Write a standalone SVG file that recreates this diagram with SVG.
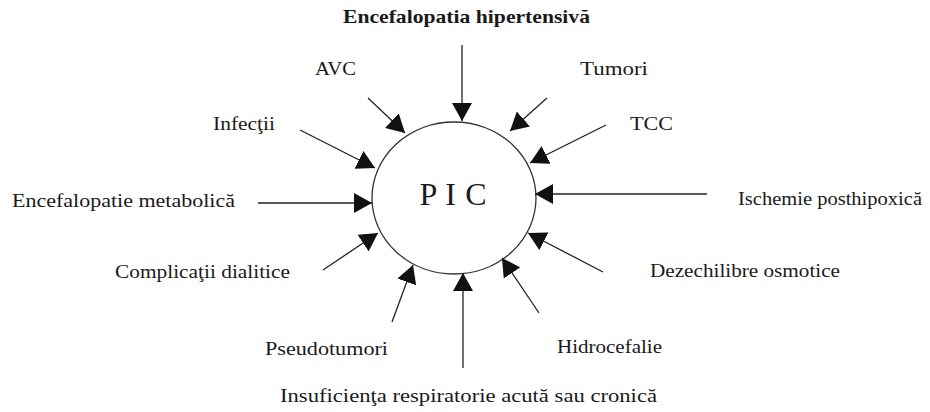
<svg xmlns="http://www.w3.org/2000/svg" width="930" height="412" viewBox="0 0 930 412">
<style>
.lbl{font-family:"Liberation Serif","Times New Roman",serif;font-size:19px;fill:#1a1a1a}
.ttl{font-weight:bold}
.c{stroke:#222;stroke-width:1.3;fill:none;marker-end:url(#ah)}
</style>
<defs>
<marker id="ah" viewBox="0 0 18 20" refX="18" refY="10" markerWidth="18" markerHeight="20" markerUnits="userSpaceOnUse" orient="auto">
<path d="M0,0 L18,10 L0,20 z" fill="#111"/>
</marker>
</defs>
<rect width="930" height="412" fill="#fff"/>
<g id="pic">
<ellipse cx="454" cy="198" rx="82" ry="76" fill="none" stroke="#333" stroke-width="1.3"/>
<text x="453" y="205" text-anchor="middle" font-family="Liberation Serif,serif" font-size="32" fill="#1a1a1a" textLength="67" lengthAdjust="spacing">P I C</text>
</g>
<g id="connectors">
<line class="c" x1="462" y1="45" x2="462" y2="121"/>
<line class="c" x1="368" y1="98" x2="405" y2="133"/>
<line class="c" x1="547" y1="98" x2="510" y2="131"/>
<line class="c" x1="606" y1="125" x2="530" y2="163"/>
<line class="c" x1="707" y1="194" x2="535" y2="194"/>
<line class="c" x1="300" y1="130" x2="375" y2="168"/>
<line class="c" x1="258" y1="203" x2="372" y2="203"/>
<line class="c" x1="323" y1="270" x2="378" y2="233"/>
<line class="c" x1="392" y1="322" x2="413" y2="265"/>
<line class="c" x1="463" y1="368" x2="463" y2="273"/>
<line class="c" x1="539" y1="313" x2="502" y2="258"/>
<line class="c" x1="603" y1="272" x2="528" y2="233"/>
</g>
<g id="n-encefalopatia-hipertensiva"><text class="lbl ttl" x="343" y="23" textLength="247" lengthAdjust="spacingAndGlyphs">Encefalopatia hipertensivă</text></g>
<g id="n-avc"><text class="lbl" x="315" y="75" textLength="41" lengthAdjust="spacingAndGlyphs">AVC</text></g>
<g id="n-tumori"><text class="lbl" x="580" y="75" textLength="68" lengthAdjust="spacingAndGlyphs">Tumori</text></g>
<g id="n-tcc"><text class="lbl" x="630" y="130" textLength="43" lengthAdjust="spacingAndGlyphs">TCC</text></g>
<g id="n-infectii"><text class="lbl" x="213" y="130" textLength="62" lengthAdjust="spacingAndGlyphs">Infecţii</text></g>
<g id="n-encefalopatie-metabolica"><text class="lbl" x="12" y="207" textLength="223" lengthAdjust="spacingAndGlyphs">Encefalopatie metabolică</text></g>
<g id="n-ischemie"><text class="lbl" x="738" y="205" textLength="184" lengthAdjust="spacingAndGlyphs">Ischemie posthipoxică</text></g>
<g id="n-complicatii"><text class="lbl" x="115" y="278" textLength="175" lengthAdjust="spacingAndGlyphs">Complicaţii dialitice</text></g>
<g id="n-dezechilibre"><text class="lbl" x="650" y="277" textLength="190" lengthAdjust="spacingAndGlyphs">Dezechilibre osmotice</text></g>
<g id="n-pseudotumori"><text class="lbl" x="265" y="355" textLength="123" lengthAdjust="spacingAndGlyphs">Pseudotumori</text></g>
<g id="n-hidrocefalie"><text class="lbl" x="557" y="353" textLength="105" lengthAdjust="spacingAndGlyphs">Hidrocefalie</text></g>
<g id="n-insuficienta"><text class="lbl" x="280" y="402" textLength="377" lengthAdjust="spacingAndGlyphs">Insuficienţa respiratorie acută sau cronică</text></g>
</svg>
